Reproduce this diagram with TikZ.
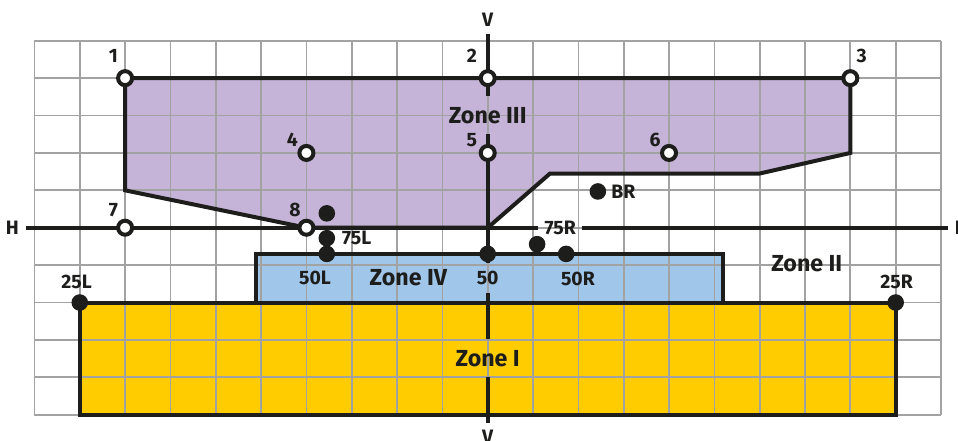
\documentclass[tikz,border=0pt]{standalone}
\usepackage{fontspec}
\setmainfont{Fira Sans}
\usepackage{tikz}
\definecolor{ink}{HTML}{1D1D1B}
\definecolor{zoneone}{HTML}{FFCC00}
\definecolor{zonethree}{HTML}{C6B3D8}
\definecolor{zonefour}{HTML}{A0C6EA}
\definecolor{gridgray}{HTML}{A2A2A2}

\begin{document}
\begin{tikzpicture}[x=22.667pt, y=18.7pt,
    axis/.style={ink, line width=2pt},
    outline/.style={ink, line width=2pt, line join=miter},
    open/.style={circle, draw=ink, fill=white, line width=2pt, minimum size=7pt, inner sep=0pt},
    dot/.style={circle, fill=ink, minimum size=8.3pt, inner sep=0pt},
    lab/.style={text=ink, font=\bfseries\fontsize{9.7}{10}\selectfont, inner sep=1pt},
    axlab/.style={lab, inner sep=3.4pt},
    zone/.style={text=ink, font=\bfseries\fontsize{11.6}{12}\selectfont, inner xsep=2pt, inner ysep=5.3pt}]
    \useasboundingbox (-10.76,-5.70) rectangle (10.375,6.09);
    % zones
    \fill[zoneone] (-9,-5) rectangle (9,-2);
    \fill[zonefour] (-5.12,-2) rectangle (5.18,-0.7);
    \fill[zonethree] (-8,4) -- (8,4) -- (8,2) -- (6,1.45) -- (1.375,1.45) -- (0,0) -- (-4,0) -- (-8,1) -- cycle;
    \draw[gridgray, line width=0.85pt, step=1] (-10,-5) grid (10,5);
    \draw[outline] (-9,-5) rectangle (9,-2);
    \draw[outline] (-5.12,-2) rectangle (5.18,-0.7);
    \draw[outline] (-8,4) -- (8,4) -- (8,2) -- (6,1.45) -- (1.375,1.45) -- (0,0) -- (-4,0) -- (-8,1) -- cycle;
    % axes
    \node[axlab] (vT) at (0,5.55) {V};
    \node[axlab] (vB) at (0,-5.6) {V};
    \node[axlab] (hL) at (-10.49,0) {H};
    \node[axlab] (hR) at (10.45,0) {H};
    \node[zone] (zIII) at (0,3.01) {Zone III};
    \node[zone] (zI) at (0,-3.49) {Zone I};
    \node[lab, inner ysep=4pt] (l50) at (0,-1.35) {50};
    \node[lab, inner xsep=2.9pt] (l75R) at (1.6,0) {75R};
    \draw[axis] (vT) -- (zIII);
    \draw[axis] (zIII) -- (l50);
    \draw[axis] (l50) -- (zI);
    \draw[axis] (zI) -- (vB);
    \draw[axis] (hL) -- (l75R);
    \draw[axis] (l75R) -- (hR);
    % points
    \node[open] (p1) at (-8,4) {};
    \node[open] (p2) at (0,4) {};
    \node[open] (p3) at (8,4) {};
    \node[open] (p4) at (-4,2) {};
    \node[open] (p5) at (0,2) {};
    \node[open] (p6) at (4,2) {};
    \node[open] (p7) at (-8,0) {};
    \node[open] (p8) at (-4,0) {};
    \node[dot] (b50L) at (-3.55,0.385) {};
    \node[dot] (d75L) at (-3.55,-0.28) {};
    \node[dot] (d50L) at (-3.55,-0.7) {};
    \node[dot] (d50) at (0,-0.7) {};
    \node[dot] (d75R) at (1.09,-0.44) {};
    \node[dot] (d50R) at (1.73,-0.7) {};
    \node[dot] (dBR) at (2.43,0.97) {};
    \node[dot] (d25L) at (-9,-2) {};
    \node[dot] (d25R) at (9,-2) {};
    % labels
    \node[lab] (l1) at (-8.26,4.6) {1};
    \node[lab] (l2) at (-0.35,4.6) {2};
    \node[lab] (l3) at (8.25,4.6) {3};
    \node[lab] (l4) at (-4.31,2.35) {4};
    \node[lab] (l5) at (-0.35,2.35) {5};
    \node[lab] (l6) at (3.69,2.35) {6};
    \node[lab] (l7) at (-8.26,0.47) {7};
    \node[lab] (l8) at (-4.25,0.47) {8};
    \node[lab] (l25L) at (-9.07,-1.44) {25L};
    \node[lab] (l25R) at (9.02,-1.44) {25R};
    \node[lab] (l50L) at (-3.81,-1.35) {50L};
    \node[lab] (l50R) at (1.99,-1.36) {50R};
    \node[lab] (l75L) at (-2.89,-0.28) {75L};
    \node[lab] (lBR) at (2.99,0.96) {BR};
    \node[zone] (zII) at (7.04,-0.95) {Zone II};
    \node[zone] (zIV) at (-1.75,-1.33) {Zone IV};
\end{tikzpicture}
\end{document}
